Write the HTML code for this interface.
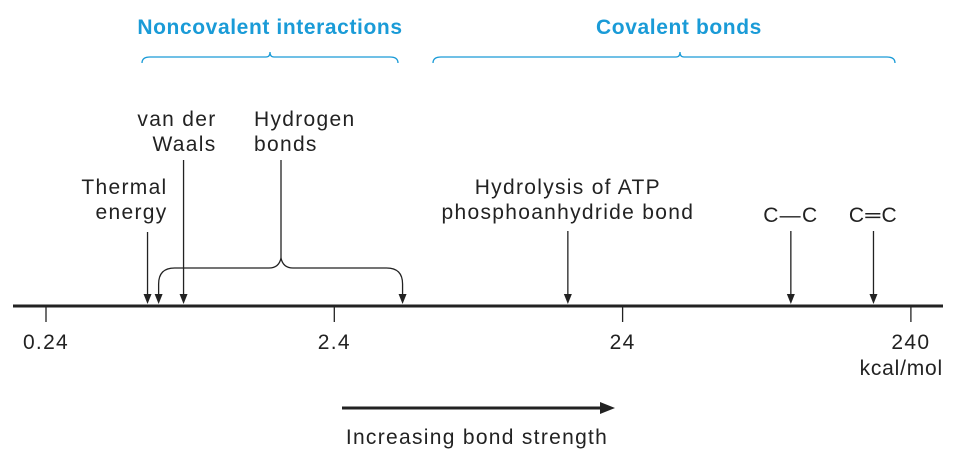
<!DOCTYPE html>
<html><head><meta charset="utf-8"><style>
html,body{margin:0;padding:0;background:#fff;}
svg{display:block;font-family:"Liberation Sans",sans-serif;}
.t{font-size:21px;letter-spacing:1.3px;fill:#222;}
.h{font-size:21px;font-weight:bold;letter-spacing:0.6px;fill:#1a9bd7;}
</style></head><body>
<svg id="chart" width="961" height="455" viewBox="0 0 961 455">
<g id="ax"></g><g id="marks"></g>
<text class="h" x="270" y="34" text-anchor="middle">Noncovalent interactions</text>
<text class="h" x="679" y="34" text-anchor="middle">Covalent bonds</text>
<path d="M142,63 Q142,57 150,57 L266,57 Q270,57 270,52 Q270,57 274,57 L390,57 Q398,57 398,63" fill="none" stroke="#1a9bd7" stroke-width="1.3"/>
<path d="M433,63 Q433,57 441,57 L676,57 Q680,57 680,52 Q680,57 684,57 L887,57 Q895,57 895,63" fill="none" stroke="#1a9bd7" stroke-width="1.3"/>
<line x1="342" y1="408" x2="602" y2="408" stroke="#222" stroke-width="3"/>
<path d="M600,402 L615,408 L600,414 Z" fill="#222"/>
<text class="t" x="477" y="444" text-anchor="middle">Increasing bond strength</text>
<text class="t" x="943" y="375" text-anchor="end" style="letter-spacing:0.8px">kcal/mol</text>
</svg>
<script>
const tickValues=[0.24,2.4,24,240];
const tickLabels=["0.24","2.4","24","240"];
const pointNames=["Thermal energy","van der Waals","Hydrolysis of ATP","C-C","C=C"];
const pointValues=[0.54,0.72,15.5,92,178];
const hbondRange=[0.59,4.14];
const X0=46,PPD=288.3,AY=306;
function xs(v){return X0+Math.log10(v/0.24)*PPD;}
const NS="http://www.w3.org/2000/svg";
function mk(t,a,p){const e=document.createElementNS(NS,t);for(const k in a)e.setAttribute(k,a[k]);p.appendChild(e);return e;}
const ax=document.getElementById('ax'),mg=document.getElementById('marks');
const axl=mk('line',{x1:13,y1:AY,x2:943,y2:AY,stroke:'#222','stroke-width':3},ax);


tickValues.forEach((v,i)=>{const x=xs(v);
 const t=mk('line',{x1:x,y1:AY,x2:x,y2:322,stroke:'#222','stroke-width':1.3},ax);
 
 
 const l=mk('text',{x:x,y:349,'text-anchor':'middle',class:'t'},ax);l.textContent=tickLabels[i];
 
 
});
function head(x,name){const p=mk('path',{d:`M${x-4},294 L${x},304 L${x+4},294 Z`,fill:'#222'},mg);
 
 }
const tops=[232,160,231,231,231];
pointValues.forEach((v,i)=>{const x=xs(v);
 const a=mk('line',{x1:x,y1:tops[i],x2:x,y2:296,stroke:'#222','stroke-width':1.3},mg);
 
 
 head(x,'arrowhead-'+i);
});
function lbl(lines,x,y,anchor,name){const t=mk('text',{x:x,'text-anchor':anchor,class:'t'},mg);
 
 
 lines.forEach((s,i)=>{const ts=mk('tspan',{x:x,y:y+i*25},t);ts.textContent=s;});}
lbl(["Thermal","energy"],xs(pointValues[0])+20,194,'end','thermal-label');
lbl(["van der","Waals"],xs(pointValues[1])+33,126,'end','vdw-label');
lbl(["Hydrogen","bonds"],254,126,'start','hbond-label');
lbl(["Hydrolysis of ATP","phosphoanhydride bond"],xs(pointValues[2]),194,'middle','atp-label');
lbl(["C—C"],xs(pointValues[3]),222,'middle','cc-label');
lbl(["C═C"],xs(pointValues[4]),222,'middle','ccd-label');
const h1=xs(hbondRange[0]),h2=xs(hbondRange[1]),hm=281;
const br=mk('path',{d:`M${h1},296 L${h1},284 Q${h1},268 ${h1+16},268 L${hm-12},268 Q${hm-2},268 ${hm},258 Q${hm+2},268 ${hm+12},268 L${h2-16},268 Q${h2},268 ${h2},284 L${h2},296`,fill:'none',stroke:'#222','stroke-width':1.3},mg);


const s=mk('line',{x1:hm,y1:160,x2:hm,y2:258,stroke:'#222','stroke-width':1.3},mg);


head(h1,'hbond-arrowhead-0');
head(h2,'hbond-arrowhead-1');
</script>
</body></html>
